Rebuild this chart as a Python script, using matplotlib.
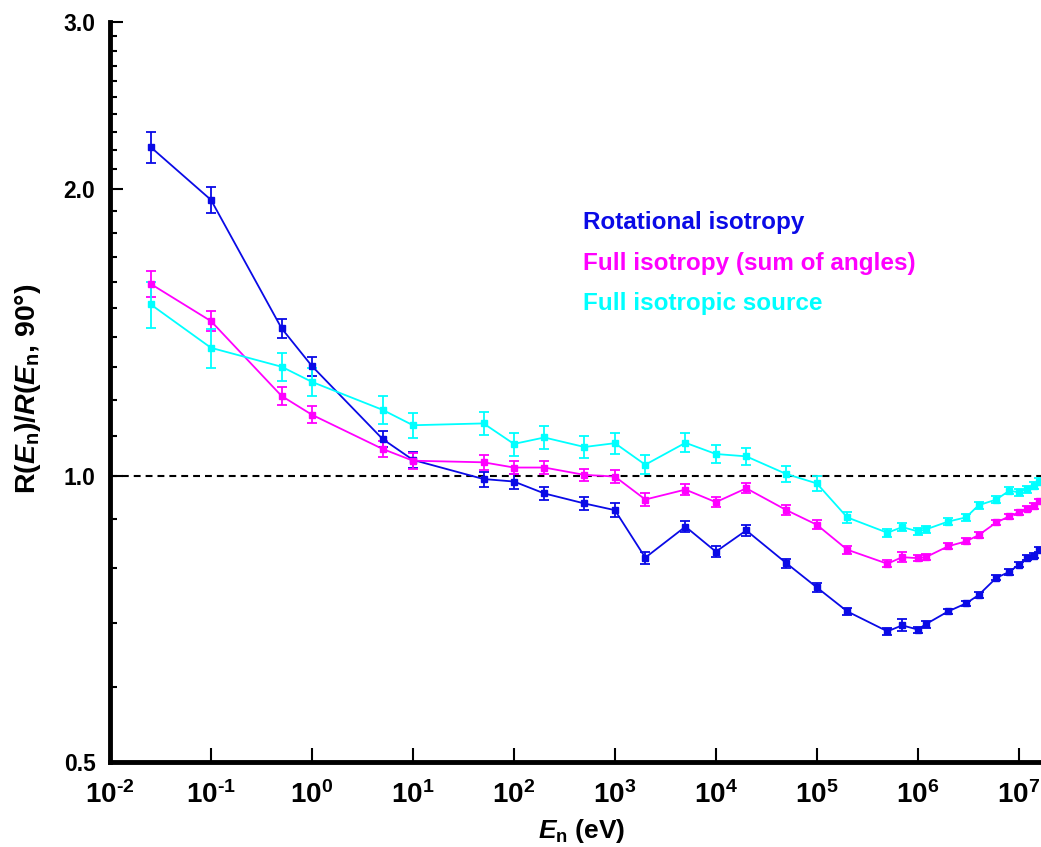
import math

import matplotlib
matplotlib.use("Agg")
import matplotlib.pyplot as plt
import matplotlib.ticker as mticker

plt.rcParams.update({
    "font.family": "Liberation Sans",
    "font.weight": "bold",
    "mathtext.fontset": "custom",
    "mathtext.rm": "Liberation Sans:bold",
    "mathtext.it": "Liberation Sans:bold:italic",
    "mathtext.bf": "Liberation Sans:bold",
})

# neutron energy (eV)
energy = [0.0253, 0.1, 0.5, 1, 5, 10, 50, 100, 200, 500, 1e3, 2e3, 5e3, 1e4,
          2e4, 5e4, 1e5, 2e5, 5e5, 7e5, 1e6, 1.2e6, 2e6, 3e6, 4e6, 6e6, 8e6,
          1e7, 1.2e7, 1.4e7, 1.6e7]

rot_iso = [2.216, 1.950, 1.429, 1.304, 1.093, 1.039, 0.992, 0.986, 0.958,
           0.935, 0.920, 0.820, 0.884, 0.832, 0.876, 0.809, 0.763, 0.720,
           0.686, 0.696, 0.689, 0.698, 0.720, 0.734, 0.749, 0.781, 0.792,
           0.806, 0.820, 0.824, 0.836]
rot_iso_err = [0.085, 0.060, 0.034, 0.030, 0.021, 0.020, 0.018, 0.017, 0.016,
               0.015, 0.015, 0.012, 0.012, 0.011, 0.011, 0.009, 0.008, 0.006,
               0.006, 0.010, 0.005, 0.006, 0.005, 0.005, 0.005, 0.005, 0.005,
               0.005, 0.005, 0.005, 0.005]

full_iso = [1.591, 1.454, 1.213, 1.159, 1.067, 1.037, 1.033, 1.020, 1.020,
            1.002, 0.998, 0.944, 0.967, 0.938, 0.970, 0.920, 0.888, 0.836,
            0.808, 0.821, 0.819, 0.821, 0.843, 0.853, 0.866, 0.893, 0.906,
            0.915, 0.923, 0.929, 0.940]
full_iso_err = [0.050, 0.035, 0.027, 0.024, 0.020, 0.020, 0.018, 0.017, 0.016,
                0.015, 0.015, 0.014, 0.013, 0.012, 0.012, 0.011, 0.010, 0.008,
                0.007, 0.010, 0.006, 0.006, 0.006, 0.006, 0.006, 0.006, 0.006,
                0.006, 0.006, 0.006, 0.006]

iso_src = [1.514, 1.363, 1.302, 1.255, 1.173, 1.130, 1.135, 1.080, 1.097,
           1.072, 1.082, 1.027, 1.083, 1.054, 1.048, 1.004, 0.9815, 0.904,
           0.871, 0.883, 0.874, 0.878, 0.895, 0.904, 0.931, 0.944, 0.964,
           0.961, 0.968, 0.976, 0.986]
iso_src_err = [0.085, 0.064, 0.045, 0.042, 0.039, 0.034, 0.031, 0.030, 0.030,
               0.028, 0.028, 0.024, 0.025, 0.023, 0.021, 0.019, 0.017, 0.012,
               0.009, 0.009, 0.008, 0.008, 0.008, 0.008, 0.008, 0.008, 0.008,
               0.008, 0.008, 0.008, 0.008]

# decade ticks on the energy axis
x_decades = [1e-2, 1e-1, 1e0, 1e1, 1e2, 1e3, 1e4, 1e5, 1e6, 1e7]
y_major = [0.5, 1.0, 2.0, 3.0]
y_minor = [0.6, 0.7, 0.8, 0.9,
           1.1, 1.2, 1.3, 1.4, 1.5, 1.6, 1.7, 1.8, 1.9,
           2.1, 2.2, 2.3, 2.4, 2.5, 2.6, 2.7, 2.8, 2.9]

series = [
    ("Rotational isotropy", rot_iso, rot_iso_err, "#0a0ae6"),
    ("Full isotropy (sum of angles)", full_iso, full_iso_err, "#ff00ff"),
    ("Full isotropic source", iso_src, iso_src_err, "#00ffff"),
]


def decade_label(v, _pos):
    # hyphen rather than a math minus in the exponent
    return r"$\mathbf{10}^{\text{%d}}$" % round(math.log10(v))


fig = plt.figure(figsize=(10.41, 8.47), dpi=100)
ax = fig.add_axes([0.1057, 0.1004, 0.8943, 0.8736])

for label, y, err, color in series:
    ax.errorbar(energy, y, yerr=err, color=color, lw=1.3, marker="s",
                ms=4.5, elinewidth=1.3, capsize=3.5, capthick=1.3)

ax.axhline(1.0, color="black", lw=1.5, dashes=(3.3, 2.4), zorder=1)

ax.set_xscale("log")
ax.set_yscale("log")
ax.set_xlim(1e-2, 1.66e7)
ax.set_ylim(0.5, 3.0)

ax.xaxis.set_major_locator(mticker.FixedLocator(x_decades))
ax.xaxis.set_minor_locator(mticker.NullLocator())
ax.xaxis.set_major_formatter(mticker.FuncFormatter(decade_label))

ax.yaxis.set_major_locator(mticker.FixedLocator(y_major))
ax.yaxis.set_minor_locator(mticker.FixedLocator(y_minor))
ax.yaxis.set_major_formatter(mticker.FormatStrFormatter("%.1f"))
ax.yaxis.set_minor_formatter(mticker.NullFormatter())

ax.tick_params(axis="both", which="both", direction="in", width=1.5)
ax.tick_params(axis="x", which="major", length=10, pad=14, labelsize=20)
ax.tick_params(axis="y", which="major", length=9, pad=10.5, labelsize=16.5)
ax.tick_params(axis="y", which="minor", length=5)

for side in ("top", "right"):
    ax.spines[side].set_visible(False)
for side in ("left", "bottom"):
    ax.spines[side].set_linewidth(3.5)

ax.set_xlabel(r"$E_{\rm n}$ (eV)", fontsize=19, fontweight="bold")
ax.xaxis.set_label_coords(0.507, -0.075)
ax.set_ylabel(r"R($E_{\rm n}$)/$R$($E_{\rm n}$, 90°)", fontsize=20.5,
              fontweight="bold")
ax.yaxis.set_label_coords(-0.072, 0.504)

# coloured series names in place of a legend box
for i, (label, _, _, color) in enumerate(series):
    ax.text(0.508, 0.729 - 0.0547 * i, label, color=color, fontsize=17.5,
            fontweight="bold", ha="left", va="center", transform=ax.transAxes)

fig.savefig("out.png", dpi=100)
